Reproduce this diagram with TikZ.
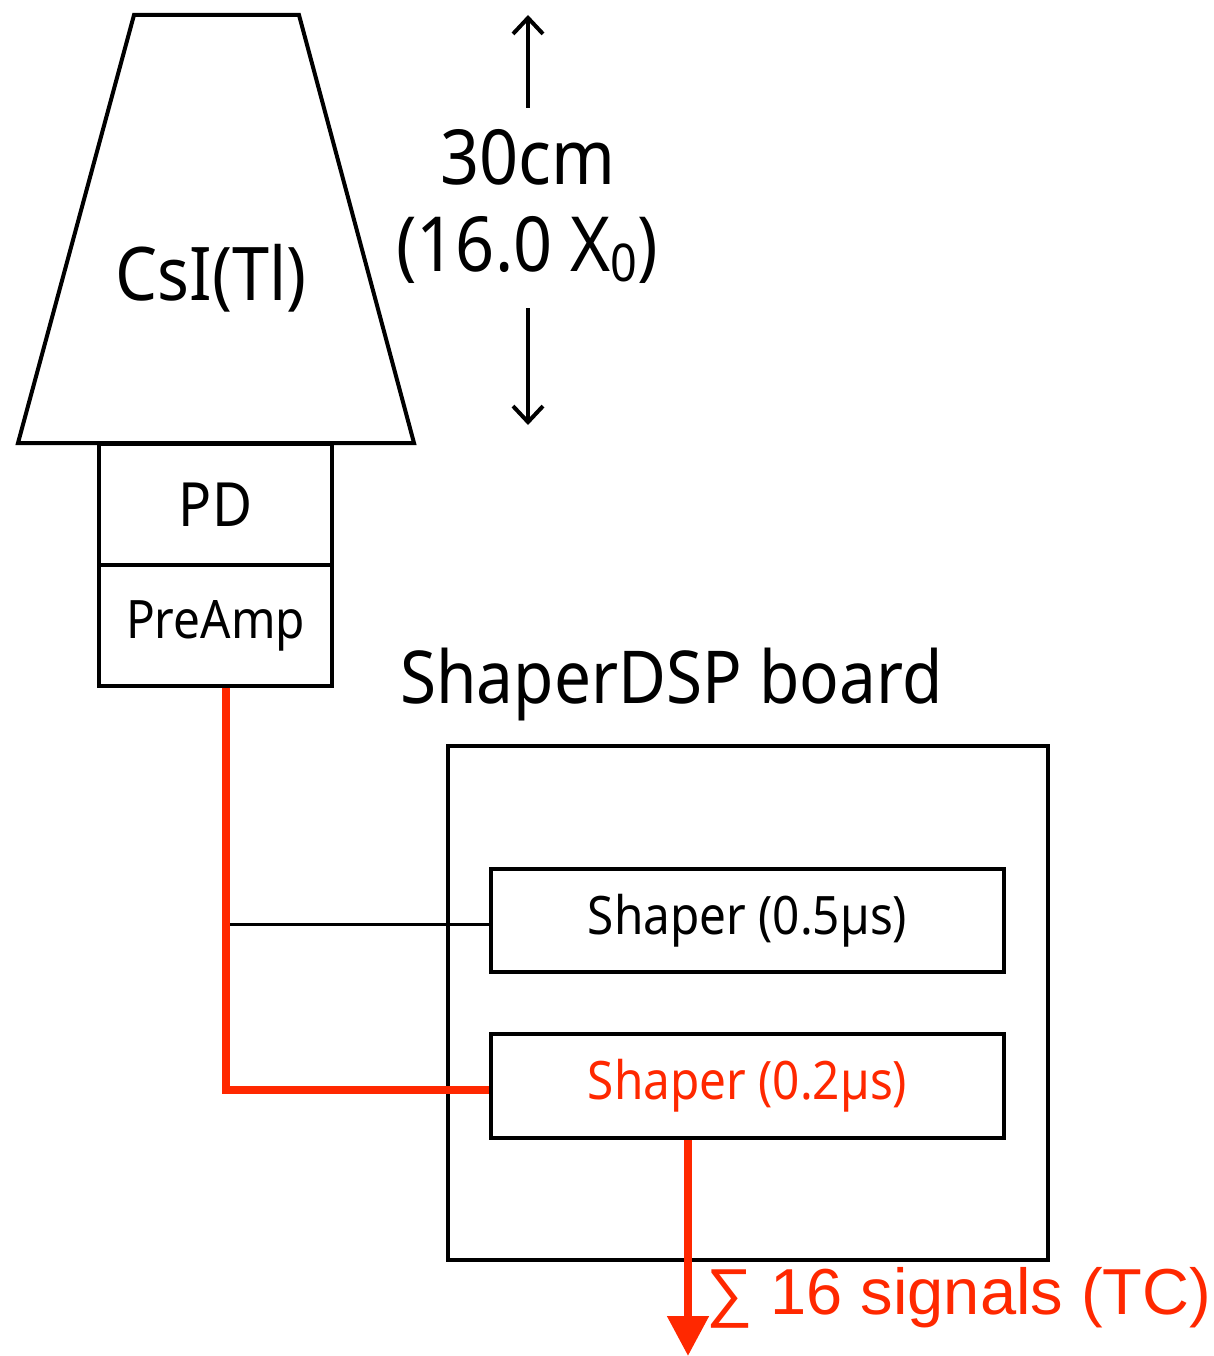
\documentclass[tikz,border=0pt]{standalone}
\usepackage{fontspec}
\setmainfont{Noto Sans}[FakeStretch=0.9]
\newfontfamily\arialf{Liberation Sans}
\usetikzlibrary{arrows.meta}
\definecolor{sigred}{RGB}{255,40,0}
\tikzset{
  boxs/.style={draw, line width=4pt, inner sep=0pt},
  lbl/.style={inner sep=0pt},
  redline/.style={draw=sigred, line width=8pt},
  dimarrow/.style={line width=4pt, -{Straight Barb[length=16pt,width=30pt]}},
}
\newcommand{\fs}[1]{\fontsize{#1pt}{#1pt}\selectfont}
\begin{document}
\begin{tikzpicture}[x=1pt,y=-1pt]
\useasboundingbox (0,0) rectangle (1214,1356);
% crystal
\coordinate (tl) at (134,15);
\coordinate (tr) at (299,15);
\coordinate (br) at (414,443);
\coordinate (bl) at (18,443);
\draw[line width=4pt, line join=miter] (tl) -- (tr) -- (br) -- (bl) -- cycle;
\node[lbl, anchor=base, font=\fs{74}] (csi) at (211,300) {CsI(Tl)};
% PD and PreAmp
\node[boxs, minimum width=233pt, minimum height=121pt, font=\fs{61}] (pd) at (215.5,504.5) {PD};
\node[boxs, minimum width=233pt, minimum height=121pt, font=\fs{53}] (pre) at (215.5,625.5) {PreAmp};
% dimension
\coordinate (dtop) at (528,15);
\coordinate (dbot) at (528,425);
\coordinate (d1) at (528,108);
\coordinate (d2) at (528,308);
\draw[dimarrow] (d1) -- (dtop);
\draw[dimarrow] (d2) -- (dbot);
\node[lbl, anchor=base, font=\fs{76}] (len) at (528,185) {30cm};
\node[lbl, anchor=base, font=\fs{76}] (x0) at (527,272) {(16.0 X\raisebox{-0.12em}{\fs{52}0})};
% board
\node[lbl, anchor=base west, font=\fs{73}] (bname) at (400,703) {ShaperDSP board};
\node[boxs, minimum width=600pt, minimum height=514pt] (board) at (748,1003) {};
\node[boxs, minimum width=513pt, minimum height=103pt, font=\fs{53}] (sh5) at (747.5,920.5) {Shaper (0.5µs)};
\node[boxs, minimum width=513pt, minimum height=104pt, font=\fs{53}, text=sigred] (sh2) at (747.5,1086) {Shaper (0.2µs)};
% connectors
\coordinate (tap) at (226,924);
\draw[line width=3pt] (tap) -- (tap -| sh5.west);
\coordinate (turn) at (226,1090);
\draw[redline] ([xshift=10.5pt]pre.south) -- (turn) -- (turn -| sh2.west);
\coordinate (out) at (688,1356);
\draw[redline, -{Triangle[length=40pt,width=40pt]}] (sh2.south -| out) -- (out);
\node[lbl, anchor=base west, font={\arialf\fs{65}}, text=sigred] (sum) at (706,1314) {∑ 16 signals (TC)};
\end{tikzpicture}
\end{document}
